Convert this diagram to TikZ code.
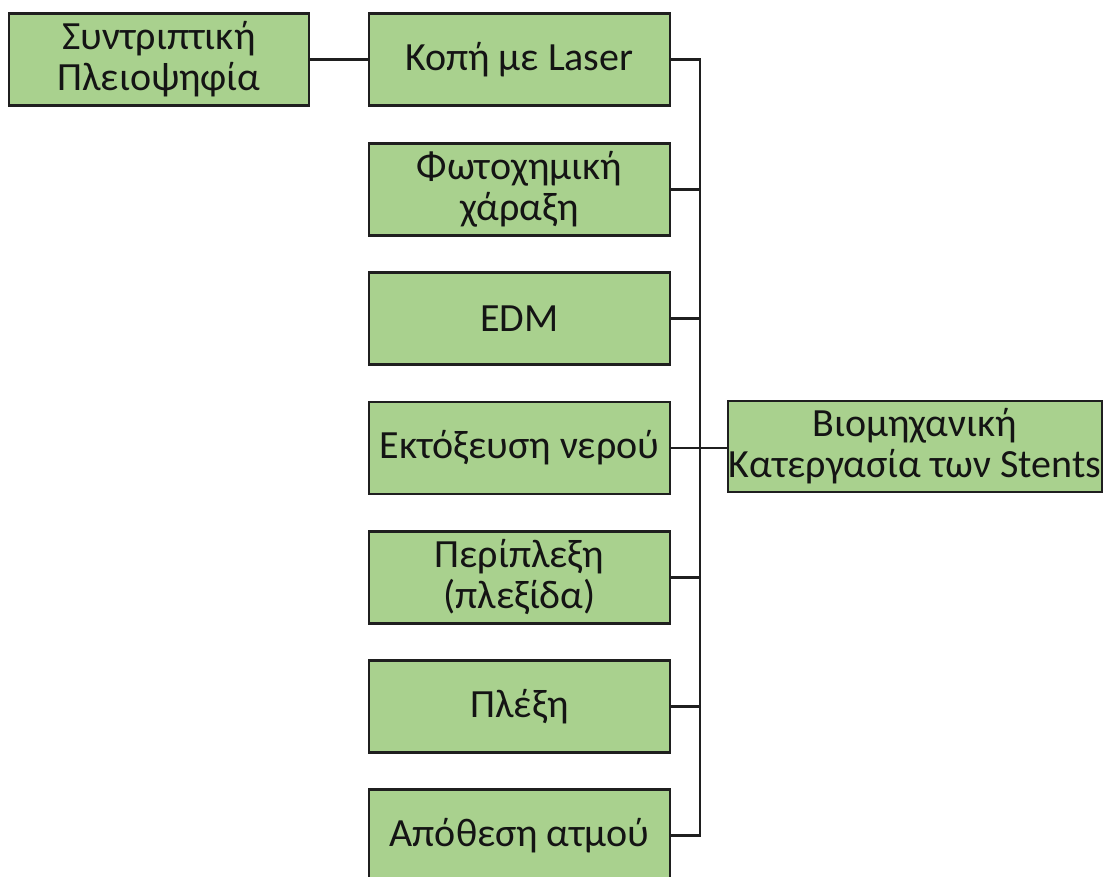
\documentclass[tikz,border=0pt]{standalone}
\usepackage{fontspec}
\setmainfont{Carlito}
\begin{document}
\begin{tikzpicture}[x=1pt,y=1pt,
  box/.style={draw=black!88, line width=2.4pt, fill=boxgreen, rectangle,
    inner sep=0pt, minimum height=92pt, align=center,
    font=\fontsize{40}{41}\selectfont, text=black!92},
  colbox/.style={box, minimum width=301pt},
  link/.style={draw=black!88, line width=2.2pt}]
\definecolor{boxgreen}{HTML}{A9D18E}
\useasboundingbox (0,0) rectangle (1105,-877);

% left-hand origin box
\node[box, minimum width=300pt] (sp) at (159,-59.5) {Συντριπτική\\Πλειοψηφία};

% column of processing methods
\node[colbox] (c1) at (519.5,-59.5)  {Κοπή με Laser};
\node[colbox] (c2) at (519.5,-189.5) {Φωτοχημική\\χάραξη};
\node[colbox] (c3) at (519.5,-318.5) {EDM};
\node[colbox] (c4) at (519.5,-448)   {Εκτόξευση νερού};
\node[colbox] (c5) at (519.5,-577.5) {Περίπλεξη\\(πλεξίδα)};
\node[colbox] (c6) at (519.5,-706.5) {Πλέξη};
\node[colbox] (c7) at (519.5,-835.5) {Απόθεση ατμού};

% summary box on the right
\node[box, minimum width=374pt, minimum height=91pt] (root) at (915,-446.5)
  {Βιομηχανική\\Κατεργασία των Stents};

% bus line joining the column
\coordinate (bus) at (700,0);
\draw[link] (sp.east) -- (c1.west);
\draw[link] (c1.east) -- (c1.east -| bus) -- (c7.east -| bus) -- (c7.east);
\foreach \n in {c2,c3,c5,c6}
  \draw[link] (\n.east) -- (\n.east -| bus);
\draw[link] (c4.east) -- (c4.east -| root.west);
\end{tikzpicture}
\end{document}
